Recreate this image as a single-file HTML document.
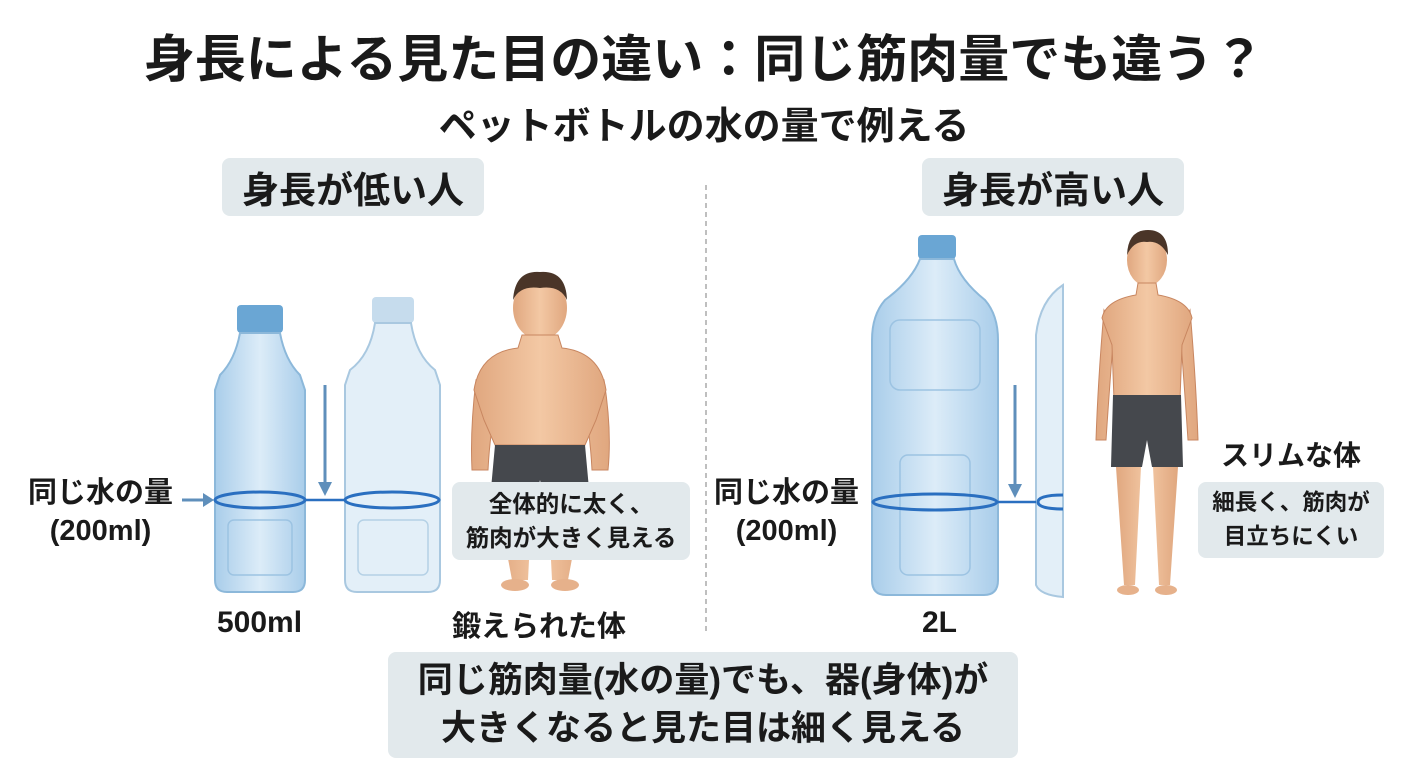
<!DOCTYPE html>
<html><head><meta charset="utf-8"><style>
html,body{margin:0;padding:0;background:#fff;}
body{width:1408px;height:768px;position:relative;overflow:hidden;font-family:"Liberation Sans","Noto Sans CJK JP",sans-serif;font-weight:bold;color:#1a1a1a;}
.t{position:absolute;white-space:nowrap;}
.box{position:absolute;background:#e2e9ec;border-radius:8px;display:flex;align-items:center;justify-content:center;text-align:center;white-space:nowrap;}
</style></head><body>
<svg width="1408" height="768" style="position:absolute;left:0;top:0">
<defs>
<linearGradient id="bg" x1="0" x2="1"><stop offset="0" stop-color="#a9cdea"/><stop offset=".5" stop-color="#dcecf8"/><stop offset="1" stop-color="#a9cdea"/></linearGradient>
<linearGradient id="sk" x1="0" x2="1"><stop offset="0" stop-color="#e0a77f"/><stop offset=".5" stop-color="#f3c8a4"/><stop offset="1" stop-color="#e0a77f"/></linearGradient>
</defs>
<line x1="706" y1="185" x2="706" y2="632" stroke="#aaa" stroke-width="1.5" stroke-dasharray="5,4"/>
<rect x="237" y="305" width="46" height="28" rx="4" fill="#6aa6d4"/>
<path d="M240 333 L280 333 Q285 360 300 375 L305 390 L305 580 Q305 592 293 592 L227 592 Q215 592 215 580 L215 390 L220 375 Q235 360 240 333Z" fill="url(#bg)" stroke="#8cb8da" stroke-width="2"/>
<rect x="228" y="520" width="64" height="55" rx="6" fill="none" stroke="#9cc3e2" stroke-width="1.5"/>
<rect x="372" y="297" width="42" height="26" rx="4" fill="#c6dced"/>
<path d="M375 323 L411 323 Q416 355 435 370 L440 385 L440 580 Q440 592 428 592 L357 592 Q345 592 345 580 L345 385 L350 370 Q370 355 375 323Z" fill="#e3eff8" stroke="#a9c8e0" stroke-width="2"/>
<rect x="358" y="520" width="70" height="55" rx="6" fill="none" stroke="#b5d1e6" stroke-width="1.5"/>
<ellipse cx="260" cy="500" rx="45" ry="8" fill="none" stroke="#2a6fc0" stroke-width="3"/>
<ellipse cx="392" cy="500" rx="47" ry="8" fill="none" stroke="#2a6fc0" stroke-width="3"/>
<line x1="305" y1="500" x2="345" y2="500" stroke="#2a6fc0" stroke-width="2.5"/>
<line x1="182" y1="500" x2="205" y2="500" stroke="#5f8fbb" stroke-width="3"/><path d="M203 493 L214 500 L203 507Z" fill="#5f8fbb"/>
<line x1="325" y1="385" x2="325" y2="483" stroke="#5f8fbb" stroke-width="3"/><path d="M318 482 L325 496 L332 482Z" fill="#5f8fbb"/>
<g>
<path d="M476 380 Q470 430 472 470 L488 470 Q490 430 498 395Z M604 380 Q612 430 608 470 L592 470 Q590 430 582 395Z" fill="url(#sk)" stroke="#c88660"/>
<ellipse cx="540" cy="308" rx="27" ry="32" fill="url(#sk)"/>
<path d="M513 300 Q515 270 540 272 Q566 270 567 300 Q560 285 540 288 Q520 285 513 300Z" fill="#4a3528"/>
<path d="M522 335 L558 335 L562 348 Q600 352 606 390 L596 420 L585 445 L495 445 L484 420 L474 390 Q480 352 518 348Z" fill="url(#sk)" stroke="#c88660" stroke-width="1"/>
<path d="M495 445 L585 445 L590 500 L545 500 L540 480 L535 500 L490 500Z" fill="#45484d"/>
<path d="M497 500 L532 500 L528 580 L512 580Z M548 500 L583 500 L568 580 L552 580Z" fill="url(#sk)"/>
<ellipse cx="515" cy="585" rx="14" ry="6" fill="#e6b18b"/><ellipse cx="565" cy="585" rx="14" ry="6" fill="#e6b18b"/>
</g>
<rect x="918" y="235" width="38" height="24" rx="4" fill="#6aa6d4"/>
<path d="M920 259 L954 259 Q960 280 985 300 Q998 315 998 340 L998 580 Q998 595 984 595 L886 595 Q872 595 872 580 L872 340 Q872 315 885 300 Q912 280 920 259Z" fill="url(#bg)" stroke="#8cb8da" stroke-width="2"/>
<rect x="890" y="320" width="90" height="70" rx="10" fill="none" stroke="#9cc3e2" stroke-width="1.5"/>
<rect x="900" y="455" width="70" height="120" rx="8" fill="none" stroke="#9cc3e2" stroke-width="1.5"/>
<path d="M1063 285 Q1040 300 1036 335 L1036 585 Q1040 595 1063 597Z" fill="#e3eff8" stroke="#a9c8e0" stroke-width="2"/>
<ellipse cx="935" cy="502" rx="62" ry="8" fill="none" stroke="#2a6fc0" stroke-width="3"/>
<path d="M1063 495 Q1038 495 1038 502 Q1038 509 1063 509" fill="none" stroke="#2a6fc0" stroke-width="3"/>
<line x1="998" y1="502" x2="1036" y2="502" stroke="#2a6fc0" stroke-width="2.5"/>
<line x1="1015" y1="385" x2="1015" y2="485" stroke="#5f8fbb" stroke-width="3"/><path d="M1008 484 L1015 498 L1022 484Z" fill="#5f8fbb"/>
<g>
<path d="M1104 310 Q1098 380 1096 440 L1106 440 Q1110 380 1114 330Z M1190 310 Q1196 380 1198 440 L1188 440 Q1184 380 1180 330Z" fill="url(#sk)" stroke="#c88660"/>
<ellipse cx="1147" cy="260" rx="20" ry="26" fill="url(#sk)"/>
<path d="M1127 255 Q1128 230 1148 230 Q1168 230 1168 255 Q1160 240 1147 242 Q1134 240 1127 255Z" fill="#4a3528"/>
<path d="M1138 283 L1156 283 L1158 295 Q1188 300 1192 318 L1182 345 L1180 400 L1114 400 L1112 345 L1102 318 Q1106 300 1136 295Z" fill="url(#sk)" stroke="#c88660" stroke-width="1"/>
<path d="M1113 395 L1181 395 L1183 467 L1152 467 L1147 440 L1142 467 L1111 467Z" fill="#45484d"/>
<path d="M1116 467 L1141 467 L1135 585 L1124 585Z M1153 467 L1178 467 L1170 585 L1159 585Z" fill="url(#sk)"/>
<ellipse cx="1128" cy="590" rx="11" ry="5" fill="#e6b18b"/><ellipse cx="1166" cy="590" rx="11" ry="5" fill="#e6b18b"/>
</g>
</svg>
<div class="t" style="left:0;width:1408px;text-align:center;top:18px;font-size:51px;">身長による見た目の違い：同じ筋肉量でも違う？</div>
<div class="t" style="left:0;width:1408px;text-align:center;top:95px;font-size:38px;">ペットボトルの水の量で例える</div>
<div class="box" style="left:222px;top:158px;width:262px;height:58px;font-size:37px;">身長が低い人</div>
<div class="box" style="left:922px;top:158px;width:262px;height:58px;font-size:37px;">身長が高い人</div>
<div class="t" style="left:28px;top:474px;font-size:29px;line-height:38px;text-align:center;">同じ水の量<br>(200ml)</div>
<div class="t" style="left:714px;top:474px;font-size:29px;line-height:38px;text-align:center;">同じ水の量<br>(200ml)</div>
<div class="box" style="left:452px;top:482px;width:238px;height:78px;font-size:23.5px;line-height:34px;">全体的に太く、<br>筋肉が大きく見える</div>
<div class="box" style="left:1198px;top:482px;width:186px;height:76px;font-size:22.5px;line-height:34px;">細長く、筋肉が<br>目立ちにくい</div>
<div class="t" style="left:1221px;top:434px;font-size:28px;">スリムな体</div>
<div class="t" style="left:217px;top:606px;font-size:30px;">500ml</div>
<div class="t" style="left:452px;top:603px;font-size:29px;">鍛えられた体</div>
<div class="t" style="left:922px;top:606px;font-size:30px;">2L</div>
<div class="box" style="left:388px;top:652px;width:630px;height:106px;font-size:35px;line-height:48px;">同じ筋肉量(水の量)でも、器(身体)が<br>大きくなると見た目は細く見える</div>
</body></html>
